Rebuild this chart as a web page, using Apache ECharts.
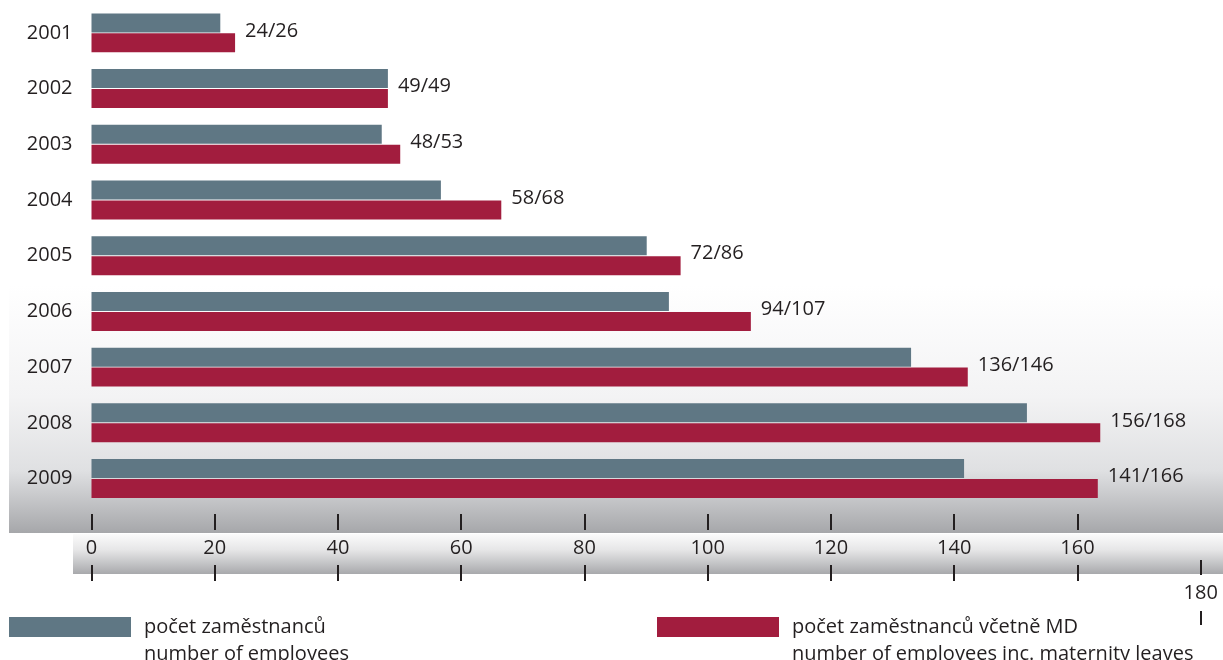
<!DOCTYPE html>
<html>
<head>
<meta charset="utf-8">
<script src="https://cdn.jsdelivr.net/npm/echarts@6/dist/echarts.min.js"></script>
<style>
  html, body { margin: 0; padding: 0; background: #fff; }
  #chart { width: 1223px; height: 660px; }
</style>
</head>
<body>
<div id="chart"></div>
<script>
// roky
const years = ['2001', '2002', '2003', '2004', '2005', '2006', '2007', '2008', '2009']
// délky pruhů odečtené z osy
const employees = [20.9, 48.1, 47.1, 56.7, 90.1, 93.7, 133.0, 151.8, 141.6]
const employeesMD = [23.3, 48.1, 50.1, 66.5, 95.6, 107.0, 142.2, 163.7, 163.3]
// popisky u pruhů
const labelEmployees = [24, 49, 48, 58, 72, 94, 136, 156, 141]
const labelEmployeesMD = [26, 49, 53, 68, 86, 107, 146, 168, 166]
// osa x
const ticksMain = [0, 20, 40, 60, 80, 100, 120, 140, 160]
const ticksLast = [180]
const seriesNames = [
  'počet zaměstnanců\nnumber of employees',
  'počet zaměstnanců včetně MD\nnumber of employees inc. maternity leaves'
]

const font = 'Open Sans'
const fontSize = 20
const textColor = '#231f20'
const gray = '#5f7784'
const red = '#a21d3e'

const chart = echarts.init(document.getElementById('chart'))

function valueAxis(offset, tickValues, tickLen, labelValues, labelMargin) {
  return {
    type: 'value',
    position: 'bottom',
    gridIndex: 0,
    offset,
    min: 0,
    max: 180,
    interval: 20,
    axisLine: { show: false },
    splitLine: { show: false },
    axisTick: {
      show: true,
      length: tickLen,
      customValues: tickValues,
      lineStyle: { color: textColor, width: 2 }
    },
    axisLabel: {
      show: labelValues.length > 0,
      customValues: labelValues,
      margin: labelMargin,
      color: textColor,
      fontFamily: font,
      fontSize
    }
  }
}

// ikona je uprostřed položky, proto prázdný první řádek
const legendBase = {
  top: 586.5,
  padding: 0,
  itemWidth: 122,
  itemHeight: 20,
  icon: 'rect',
  selectedMode: false,
  formatter: (name) => ' \n' + name,
  textStyle: {
    color: textColor,
    fontFamily: font,
    fontSize,
    lineHeight: 27,
    padding: [0, 0, 0, 8]
  }
}

const option = {
  backgroundColor: '#fff',
  animation: false,
  graphic: [
    {
      type: 'rect',
      z: -10,
      shape: { x: 9, y: 285, width: 1214, height: 248 },
      style: {
        fill: new echarts.graphic.LinearGradient(0, 0, 0, 1, [
          { offset: 0, color: '#ffffff' },
          { offset: 0.45, color: '#f3f3f4' },
          { offset: 0.75, color: '#dfe0e2' },
          { offset: 1, color: '#a6a7aa' }
        ])
      }
    },
    {
      type: 'rect',
      z: -10,
      shape: { x: 73, y: 534, width: 1150, height: 40 },
      style: {
        fill: new echarts.graphic.LinearGradient(0, 0, 0, 1, [
          { offset: 0, color: '#fbfbfb' },
          { offset: 0.4, color: '#e6e6e7' },
          { offset: 1, color: '#a8a9ac' }
        ])
      }
    }
  ],
  legend: [
    Object.assign({}, legendBase, { left: 9, data: [seriesNames[0]] }),
    Object.assign({}, legendBase, { left: 657, data: [seriesNames[1]] })
  ],
  grid: {
    left: 91.5,
    right: 22.3,
    top: 5,
    bottom: 153.6,
    containLabel: false
  },
  yAxis: {
    type: 'category',
    data: years,
    inverse: true,
    axisLine: { show: false },
    axisTick: { show: false },
    axisLabel: {
      margin: 19,
      color: textColor,
      fontFamily: font,
      fontSize
    }
  },
  xAxis: [
    valueAxis(7.6, ticksMain, 16, ticksMain, 24),
    valueAxis(58.6, ticksMain, 16, [], 0),
    valueAxis(53.6, ticksLast, 15, ticksLast, 23),
    valueAxis(104.6, ticksLast, 14, [], 0)
  ],
  series: [
    {
      name: seriesNames[0],
      type: 'bar',
      data: employees,
      barWidth: 19,
      barGap: '5%',
      itemStyle: { color: gray }
    },
    {
      name: seriesNames[1],
      type: 'bar',
      data: employeesMD,
      barWidth: 19,
      itemStyle: { color: red },
      label: {
        show: true,
        position: 'right',
        distance: 10,
        offset: [0, -12],
        color: textColor,
        fontFamily: font,
        fontSize,
        formatter: (p) => labelEmployees[p.dataIndex] + '/' + labelEmployeesMD[p.dataIndex]
      }
    }
  ]
}

chart.setOption(option)
</script>
</body>
</html>
